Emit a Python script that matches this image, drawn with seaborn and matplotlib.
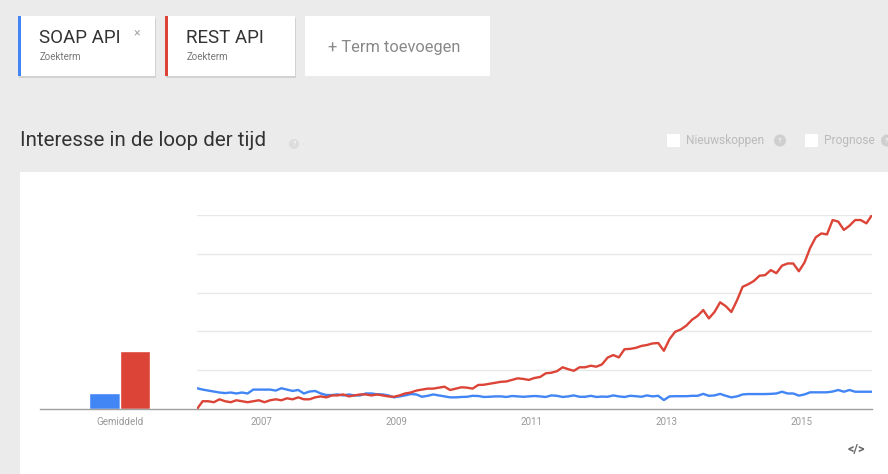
#!/usr/bin/env python3

import numpy as np
import pandas as pd
import matplotlib
matplotlib.use("Agg")
import matplotlib.pyplot as plt
from matplotlib.patches import Rectangle, Circle
import seaborn as sns


# Search terms and their colours
TERMS = ['SOAP API', 'REST API']
COLORS = ['#4285f4', '#db4437']

# Average interest (bar left of the time series)
AVERAGES = [8.4, 30]

# Monthly interest, Jan 2006 .. Jan 2016
SOAP_VALUES = [
    10.7, 10, 9.5, 9, 8.5, 8.2, 8.5, 8, 8.5, 8, 10, 10,
    10, 10, 9.5, 10.7, 10, 9.3, 9.8, 8, 9, 9.3, 8, 7.2,
    7.2, 7.5, 7, 7.5, 7, 7, 8, 8, 7.6, 7.5, 7, 6,
    6.5, 7, 7.7, 7.5, 6.3, 6.8, 7.5, 7, 6.5, 6, 6, 6.2,
    6.3, 6.8, 6.7, 6.2, 6.3, 6.5, 6.5, 6.2, 6.7, 6.5, 6.3, 6.5,
    6.7, 6.5, 6.2, 7, 6.8, 6.2, 6.5, 7, 6.3, 6.3, 6.8, 6.2,
    6.4, 6.3, 7, 6.5, 6.2, 6.8, 6.6, 6.3, 7, 6.5, 6.8, 4.6,
    6.5, 6.6, 6.6, 6.6, 6.8, 6.8, 7.8, 6.8, 7, 7.8, 6.8, 6,
    6.5, 7.5, 7.7, 7.7, 7.7, 7.7, 7.8, 8, 8.9, 8, 8, 6.9,
    7.5, 8.6, 8.6, 8.6, 8.6, 9, 9.8, 8.9, 9.8, 8.9, 8.9, 8.9,
    8.9,
]
REST_VALUES = [
    0, 4, 4, 3.5, 5, 4, 3.5, 4.5, 4, 3.5, 4, 4.5,
    3.5, 4.5, 5, 4.5, 5.5, 5, 6, 5, 5, 6, 6.5, 6,
    7, 7, 7.5, 6.5, 7, 7.5, 7.5, 7, 7.5, 7, 6.5, 6.3,
    7, 8, 8.5, 9.5, 10, 10.5, 10.5, 11, 11.5, 9.8, 10.5, 11.2,
    11, 10.5, 12.4, 12.5, 13, 13.5, 14, 14.2, 15, 15.8, 15.5, 15,
    16, 16.5, 18.4, 18.7, 19.5, 21.5, 20.5, 19.7, 21.5, 21.5, 22.3, 21.8,
    23, 26.5, 27.8, 26.6, 30.8, 31, 31.5, 32.5, 33, 33.8, 34, 30,
    36, 39.8, 41, 43, 46, 48, 51, 46.7, 50, 55, 53, 50,
    56, 63, 64.3, 66, 68.7, 69, 71.6, 70, 73.9, 75, 75, 71,
    75.5, 83, 88.5, 90.5, 90, 97.4, 96.6, 92.3, 94.5, 97.4, 97.4, 95.7,
    100,
]
YEAR_TICKS = [2007, 2009, 2011, 2013, 2015]
BAR_LABEL = 'Gemiddeld'

W, H = 888, 474
BG = '#ebebeb'
FONT = ['Roboto', 'DejaVu Sans']


def fx(px):
    return px / W


def fy(py):
    return 1 - py / H


def draw_page(ax):
    """Cards, title and white panel, in pixel coordinates"""
    ax.set_xlim(0, W)
    ax.set_ylim(H, 0)
    ax.axis('off')

    # white chart panel
    ax.add_patch(Rectangle((20, 172), 868, 302, color='white', lw=0))

    # term cards
    cards = [(18, 137, TERMS[0], COLORS[0]), (165, 130, TERMS[1], COLORS[1])]
    for x0, w, label, col in cards:
        ax.add_patch(Rectangle((x0 + 1, 18), w, 60, color='#d2d2d2', lw=0))
        ax.add_patch(Rectangle((x0, 16), w, 60, color='white', lw=0))
        ax.add_patch(Rectangle((x0, 16), 3, 60, color=col, lw=0))
        ax.text(x0 + 21, 38, label, fontsize=13.5, color='#333333',
                va='center', ha='left', family=FONT)
        ax.text(x0 + 22, 57, 'Zoekterm', fontsize=7, color='#777777',
                va='center', ha='left', family=FONT)
    ax.text(137, 33, '×', fontsize=9, color='#aaaaaa', va='center',
            ha='center', family=FONT)

    ax.add_patch(Rectangle((305, 16), 185, 60, color='white', lw=0))
    ax.text(394, 47, '+ Term toevoegen', fontsize=11.8, color='#888888',
            va='center', ha='center', family=FONT)

    # section title
    ax.text(20, 141, 'Interesse in de loop der tijd', fontsize=14.8,
            color='#333333', va='center', ha='left', family=FONT)
    ax.add_patch(Circle((294, 144), 5, color='#dcdcdc', lw=0))
    ax.text(294, 144.5, '?', fontsize=5, color='white', va='center',
            ha='center', family=FONT)

    # options on the right
    for cx, label in [(667, 'Nieuwskoppen'), (805, 'Prognose')]:
        ax.add_patch(Rectangle((cx, 134), 13, 13, color='white', lw=0))
        ax.text(cx + 19, 140.5, label, fontsize=8.6, color='#bbbbbb',
                va='center', ha='left', family=FONT)
    for cx in [780, 887]:
        ax.add_patch(Circle((cx, 140.5), 6, color='#cfcfcf', lw=0))
        ax.text(cx, 141, '?', fontsize=5.5, color='white', va='center',
                ha='center', family=FONT)

    ax.text(856, 450, '</>', fontsize=9, color='#666666', va='center',
            ha='center', family=FONT, fontweight='bold')


def main():
    sns.set_theme(style='white')
    plt.rcParams['font.family'] = FONT

    fig = plt.figure(figsize=(W / 100, H / 100), dpi=100)
    fig.patch.set_facecolor(BG)

    page = fig.add_axes([0, 0, 1, 1], zorder=0)
    draw_page(page)

    # time series data
    months = np.arange(len(SOAP_VALUES))
    df = pd.DataFrame({
        'year': np.concatenate([2006.05 + months / 12, 2006.05 + months / 12]),
        'value': SOAP_VALUES + REST_VALUES,
        'term': [TERMS[0]] * len(SOAP_VALUES) + [TERMS[1]] * len(REST_VALUES),
    })

    bottom, height = fy(409), 194 / H

    ax = fig.add_axes([fx(197), bottom, 675 / W, height], zorder=2)
    ax.set_facecolor('none')
    for y in range(20, 101, 20):
        ax.axhline(y, color='#e8e8e8', lw=1, zorder=0)
    sns.lineplot(data=df, x='year', y='value', hue='term', palette=COLORS,
                 linewidth=1.7, legend=False, ax=ax, zorder=3)
    ax.set_xlim(2006.05, 2016.05)
    ax.set_ylim(0, 100)
    ax.set_xticks(YEAR_TICKS)
    ax.set_xticklabels([str(y) for y in YEAR_TICKS])
    ax.set_yticks([])
    ax.set_xlabel('')
    ax.set_ylabel('')

    # average bars
    bars = pd.DataFrame({'label': [BAR_LABEL] * 2, 'avg': AVERAGES, 'term': TERMS})
    bx = fig.add_axes([fx(40), bottom, 157 / W, height], zorder=2)
    bx.set_facecolor('none')
    sns.barplot(data=bars, x='label', y='avg', hue='term', palette=COLORS,
                width=0.82, saturation=1, legend=False, ax=bx)
    bx.set_xlim(-1.06, 1.03)
    bx.set_ylim(0, 100)
    bx.set_yticks([])
    bx.set_xlabel('')
    bx.set_ylabel('')

    for a in (ax, bx):
        sns.despine(ax=a, left=True, top=True, right=True)
        a.spines['bottom'].set_color('#a0a0a0')
        a.spines['bottom'].set_linewidth(1)
        a.tick_params(axis='x', length=0, pad=6, labelsize=7, labelcolor='#999999')
        a.grid(False)

    fig.savefig('out.png', dpi=100, facecolor=BG)


if __name__ == '__main__':
    main()
